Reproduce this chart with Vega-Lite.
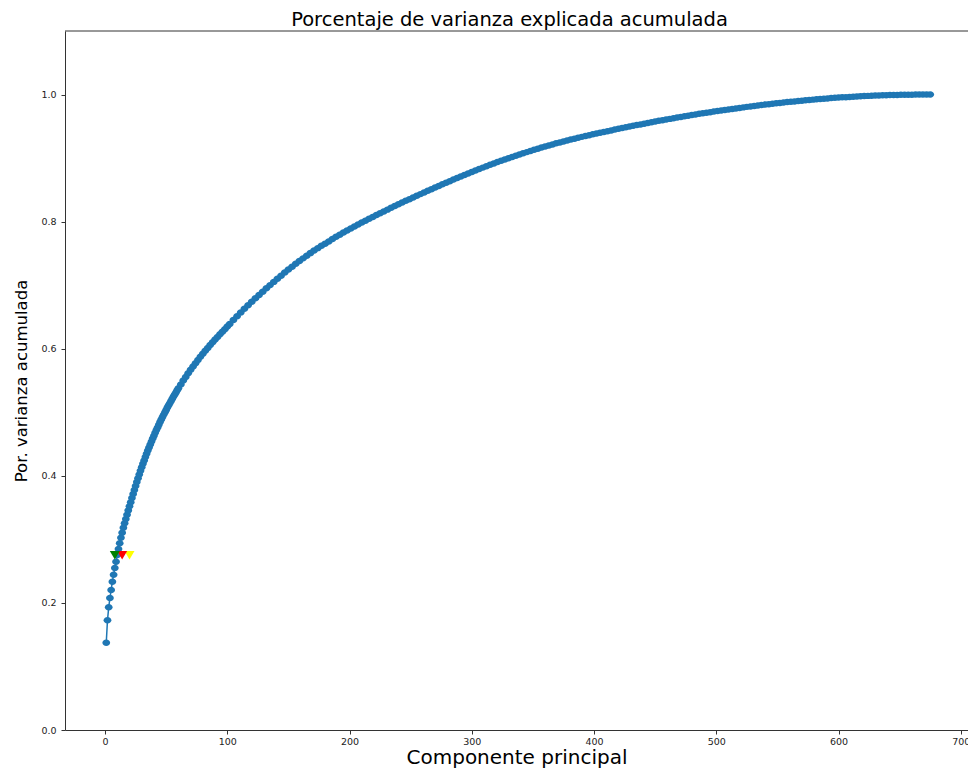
{
  "$schema": "https://vega.github.io/schema/vega-lite/v6.json",
  "width": 903,
  "height": 699,
  "autosize": "none",
  "padding": {"left": 65, "top": 31, "right": 0, "bottom": 40},
  "background": "white",
  "config": {"view": {"stroke": null}},
  "title": {"text": "Porcentaje de varianza explicada acumulada", "font": "DejaVu Sans", "fontSize": 19.5, "fontWeight": "normal", "color": "#000", "anchor": "middle", "dx": -7, "offset": 0},
  "datasets": {
    "curve": [
      {"c":1,"v":0.1374},{"c":2,"v":0.1726},{"c":3,"v":0.1930},{"c":4,"v":0.2077},{"c":5,"v":0.2203},{"c":6,"v":0.2334},{"c":7,"v":0.2444},{"c":8,"v":0.2549},{"c":9,"v":0.2649},{"c":10,"v":0.2755},
      {"c":11,"v":0.2850},{"c":12,"v":0.2940},{"c":13,"v":0.3025},{"c":14,"v":0.3105},{"c":15,"v":0.3181},{"c":16,"v":0.3253},{"c":17,"v":0.3322},{"c":18,"v":0.3389},{"c":19,"v":0.3455},{"c":20,"v":0.3521},
      {"c":21,"v":0.3586},{"c":22,"v":0.3651},{"c":23,"v":0.3715},{"c":24,"v":0.3778},{"c":25,"v":0.3840},{"c":26,"v":0.3901},{"c":27,"v":0.3961},{"c":28,"v":0.4020},{"c":29,"v":0.4078},{"c":30,"v":0.4135},
      {"c":31,"v":0.4189},{"c":32,"v":0.4243},{"c":33,"v":0.4297},{"c":34,"v":0.4347},{"c":35,"v":0.4397},{"c":36,"v":0.4447},{"c":37,"v":0.4494},{"c":38,"v":0.4541},{"c":39,"v":0.4588},{"c":40,"v":0.4632},
      {"c":41,"v":0.4676},{"c":42,"v":0.4720},{"c":43,"v":0.4762},{"c":44,"v":0.4804},{"c":45,"v":0.4846},{"c":46,"v":0.4885},{"c":47,"v":0.4924},{"c":48,"v":0.4963},{"c":49,"v":0.5000},{"c":50,"v":0.5037},
      {"c":51,"v":0.5074},{"c":52,"v":0.5109},{"c":53,"v":0.5144},{"c":54,"v":0.5179},{"c":55,"v":0.5213},{"c":56,"v":0.5247},{"c":57,"v":0.5281},{"c":58,"v":0.5313},{"c":59,"v":0.5345},{"c":60,"v":0.5377},
      {"c":62,"v":0.5439},{"c":64,"v":0.5499},{"c":66,"v":0.5557},{"c":68,"v":0.5613},{"c":70,"v":0.5668},{"c":72,"v":0.5722},{"c":74,"v":0.5773},{"c":76,"v":0.5824},{"c":78,"v":0.5872},{"c":80,"v":0.5920},
      {"c":82,"v":0.5967},{"c":84,"v":0.6013},{"c":86,"v":0.6057},{"c":88,"v":0.6101},{"c":90,"v":0.6144},{"c":92,"v":0.6186},{"c":94,"v":0.6228},{"c":96,"v":0.6268},{"c":98,"v":0.6308},{"c":100,"v":0.6348},
      {"c":102,"v":0.6390},{"c":105,"v":0.6452},{"c":108,"v":0.6512},{"c":111,"v":0.6571},{"c":114,"v":0.6629},{"c":117,"v":0.6685},{"c":120,"v":0.6740},{"c":123,"v":0.6794},{"c":126,"v":0.6846},{"c":129,"v":0.6897},
      {"c":132,"v":0.6950},{"c":135,"v":0.7001},{"c":138,"v":0.7052},{"c":141,"v":0.7101},{"c":144,"v":0.7150},{"c":147,"v":0.7198},{"c":150,"v":0.7245},{"c":153,"v":0.7291},{"c":156,"v":0.7336},{"c":159,"v":0.7380},
      {"c":162,"v":0.7422},{"c":165,"v":0.7464},{"c":168,"v":0.7505},{"c":171,"v":0.7545},{"c":174,"v":0.7583},{"c":177,"v":0.7620},{"c":180,"v":0.7653},{"c":183,"v":0.7689},{"c":186,"v":0.7725},{"c":189,"v":0.7761},
      {"c":192,"v":0.7795},{"c":195,"v":0.7828},{"c":198,"v":0.7861},{"c":201,"v":0.7893},{"c":204,"v":0.7924},{"c":207,"v":0.7954},{"c":210,"v":0.7985},{"c":213,"v":0.8015},{"c":216,"v":0.8044},{"c":219,"v":0.8074},
      {"c":222,"v":0.8103},{"c":225,"v":0.8132},{"c":228,"v":0.8161},{"c":231,"v":0.8189},{"c":234,"v":0.8217},{"c":237,"v":0.8245},{"c":240,"v":0.8273},{"c":243,"v":0.8300},{"c":246,"v":0.8327},{"c":249,"v":0.8354},
      {"c":252,"v":0.8381},{"c":255,"v":0.8407},{"c":258,"v":0.8433},{"c":261,"v":0.8460},{"c":264,"v":0.8485},{"c":267,"v":0.8511},{"c":270,"v":0.8537},{"c":273,"v":0.8562},{"c":276,"v":0.8587},{"c":279,"v":0.8613},
      {"c":282,"v":0.8637},{"c":285,"v":0.8662},{"c":288,"v":0.8687},{"c":291,"v":0.8711},{"c":294,"v":0.8735},{"c":297,"v":0.8758},{"c":300,"v":0.8782},{"c":303,"v":0.8805},{"c":306,"v":0.8828},{"c":309,"v":0.8850},
      {"c":312,"v":0.8872},{"c":315,"v":0.8894},{"c":318,"v":0.8916},{"c":321,"v":0.8937},{"c":324,"v":0.8957},{"c":327,"v":0.8978},{"c":330,"v":0.8998},{"c":333,"v":0.9018},{"c":336,"v":0.9037},{"c":339,"v":0.9057},
      {"c":342,"v":0.9075},{"c":345,"v":0.9094},{"c":348,"v":0.9112},{"c":351,"v":0.9130},{"c":354,"v":0.9147},{"c":357,"v":0.9165},{"c":360,"v":0.9182},{"c":363,"v":0.9199},{"c":366,"v":0.9215},{"c":369,"v":0.9232},
      {"c":372,"v":0.9247},{"c":375,"v":0.9262},{"c":378,"v":0.9277},{"c":381,"v":0.9292},{"c":384,"v":0.9306},{"c":387,"v":0.9320},{"c":390,"v":0.9334},{"c":393,"v":0.9347},{"c":396,"v":0.9360},{"c":399,"v":0.9374},
      {"c":402,"v":0.9386},{"c":405,"v":0.9399},{"c":408,"v":0.9412},{"c":411,"v":0.9424},{"c":414,"v":0.9436},{"c":417,"v":0.9449},{"c":420,"v":0.9461},{"c":423,"v":0.9473},{"c":426,"v":0.9484},{"c":429,"v":0.9496},
      {"c":432,"v":0.9508},{"c":435,"v":0.9519},{"c":438,"v":0.9530},{"c":441,"v":0.9542},{"c":444,"v":0.9553},{"c":447,"v":0.9564},{"c":450,"v":0.9575},{"c":453,"v":0.9586},{"c":456,"v":0.9596},{"c":459,"v":0.9607},
      {"c":462,"v":0.9617},{"c":465,"v":0.9627},{"c":468,"v":0.9637},{"c":471,"v":0.9647},{"c":474,"v":0.9657},{"c":477,"v":0.9667},{"c":480,"v":0.9677},{"c":483,"v":0.9686},{"c":486,"v":0.9696},{"c":489,"v":0.9705},
      {"c":492,"v":0.9714},{"c":495,"v":0.9723},{"c":498,"v":0.9732},{"c":501,"v":0.9741},{"c":504,"v":0.9749},{"c":507,"v":0.9758},{"c":510,"v":0.9766},{"c":513,"v":0.9774},{"c":516,"v":0.9782},{"c":519,"v":0.9790},
      {"c":522,"v":0.9798},{"c":525,"v":0.9806},{"c":528,"v":0.9813},{"c":531,"v":0.9820},{"c":534,"v":0.9828},{"c":537,"v":0.9835},{"c":540,"v":0.9842},{"c":543,"v":0.9849},{"c":546,"v":0.9855},{"c":549,"v":0.9862},
      {"c":552,"v":0.9868},{"c":555,"v":0.9875},{"c":558,"v":0.9881},{"c":561,"v":0.9887},{"c":564,"v":0.9892},{"c":567,"v":0.9898},{"c":570,"v":0.9904},{"c":573,"v":0.9909},{"c":576,"v":0.9915},{"c":579,"v":0.9920},
      {"c":582,"v":0.9925},{"c":585,"v":0.9930},{"c":588,"v":0.9935},{"c":591,"v":0.9939},{"c":594,"v":0.9944},{"c":597,"v":0.9948},{"c":600,"v":0.9952},{"c":603,"v":0.9956},{"c":606,"v":0.9959},{"c":609,"v":0.9963},
      {"c":612,"v":0.9966},{"c":615,"v":0.9970},{"c":618,"v":0.9973},{"c":621,"v":0.9976},{"c":624,"v":0.9979},{"c":627,"v":0.9981},{"c":630,"v":0.9984},{"c":633,"v":0.9986},{"c":636,"v":0.9988},{"c":639,"v":0.9990},
      {"c":642,"v":0.9992},{"c":645,"v":0.9993},{"c":648,"v":0.9994},{"c":651,"v":0.9995},{"c":654,"v":0.9996},{"c":657,"v":0.9997},{"c":660,"v":0.9998},{"c":663,"v":0.9999},{"c":666,"v":0.9999},{"c":669,"v":1.0},
      {"c":672,"v":1.0},{"c":675,"v":1.0}
    ],
    "marks": [
      {"c":20,"v":0.275,"k":"yellow"},
      {"c":14,"v":0.275,"k":"red"},
      {"c":8,"v":0.275,"k":"green"}
    ]
  },
  "layer": [
    {
      "data": {"name": "curve"},
      "mark": {"type": "line", "color": "#1f77b4", "strokeWidth": 1.5},
      "encoding": {
        "x": {"field": "c", "type": "quantitative",
          "scale": {"domain": [-32.75, 705.9], "nice": false, "zero": false},
          "axis": {"values": [0,100,200,300,400,500,600,700], "format": "d", "labelFont": "DejaVu Sans", "labelFontSize": 9.5, "labelColor": "#222", "labelPadding": 2, "labelFlush": false, "tickSize": 4, "tickColor": "#333", "domainColor": "#333", "grid": false,
            "title": "Componente principal", "titleFont": "DejaVu Sans", "titleFontSize": 20, "titleFontWeight": "normal", "titleColor": "#000", "titlePadding": 2}},
        "y": {"field": "v", "type": "quantitative",
          "scale": {"domain": [0, 1.1], "nice": false, "zero": false},
          "axis": {"values": [0,0.2,0.4,0.6,0.8,1.0], "format": ".1f", "labelFont": "DejaVu Sans", "labelFontSize": 9.5, "labelColor": "#222", "labelPadding": 5, "tickSize": 4, "tickColor": "#333", "domainColor": "#333", "grid": false,
            "title": "Por. varianza acumulada", "titleFont": "DejaVu Sans", "titleFontSize": 16.5, "titleFontWeight": "normal", "titleColor": "#000", "titlePadding": 11}}
      }
    },
    {
      "data": {"name": "curve"},
      "mark": {"type": "point", "filled": true, "opacity": 1, "color": "#1f77b4", "size": 42, "shape": "M-1.2,0A1.2,1,0,1,0,1.2,0A1.2,1,0,1,0,-1.2,0Z"},
      "encoding": {
        "x": {"field": "c", "type": "quantitative"},
        "y": {"field": "v", "type": "quantitative"}
      }
    },
    {
      "data": {"name": "marks"},
      "mark": {"type": "point", "filled": true, "opacity": 1, "shape": "triangle-down", "size": 100},
      "encoding": {
        "x": {"field": "c", "type": "quantitative"},
        "y": {"field": "v", "type": "quantitative"},
        "color": {"field": "k", "type": "nominal", "scale": {"domain": ["yellow","red","green"], "range": ["#ffff00","#ff0000","#008000"]}, "legend": null}
      }
    },
    {
      "data": {"values": [{}]},
      "mark": {"type": "rule", "color": "#333", "strokeWidth": 1},
      "encoding": {"y": {"datum": 1.1}}
    }
  ]
}
